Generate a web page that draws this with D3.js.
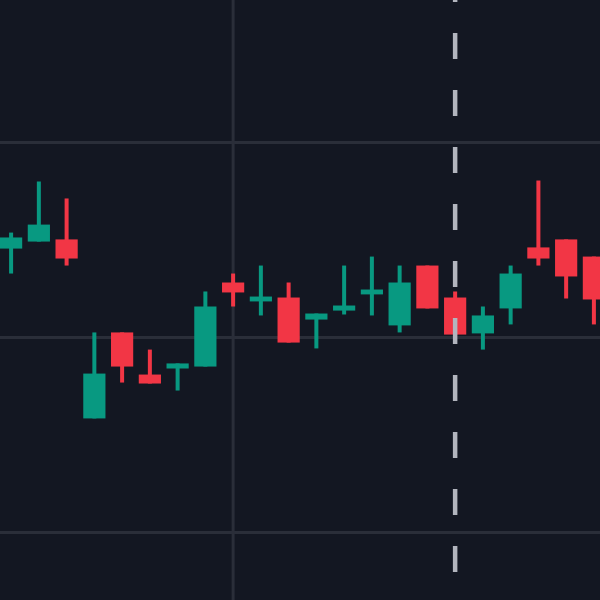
<!DOCTYPE html>
<html>
<head>
<meta charset="utf-8">
<script src="https://cdn.jsdelivr.net/npm/d3@7"></script>
<style>
  html, body { margin: 0; padding: 0; background: #131722; }
  svg { display: block; }
</style>
</head>
<body>
<div id="plot"></div>
<script>
// candles (price units are arbitrary, grid lines at 90 / 100 / 110)
let days  = ['d01','d02','d03','d04','d05','d06','d07','d08','d09','d10','d11',
             'd12','d13','d14','d15','d16','d17','d18','d19','d20','d21','d22'];
let open  = [104.56,104.92,105.03, 95.85,100.26, 98.10, 98.41, 98.51,102.82,101.85,102.05,
             100.92,101.38,102.21,100.62,103.69,102.05,100.21,101.49,104.62,105.03,104.15];
let high  = [105.38,108.00,107.13,100.26,100.26, 99.38, 98.67,102.36,103.28,103.69,102.82,
             101.23,103.69,104.15,103.69,103.69,102.36,101.59,103.69,108.05,105.03,104.15];
let low   = [103.28,104.92,103.69, 95.85, 97.69, 97.64, 97.28, 98.51,101.59,101.13, 99.74,
              99.44,101.18,101.13,100.26,101.49,100.15, 99.38,100.67,103.69,102.00,100.67];
let close = [105.13,105.79,104.05, 98.15, 98.51, 97.64, 98.67,101.59,102.31,102.10, 99.74,
             101.23,101.64,102.46,102.82,101.49,100.15,101.13,103.28,104.05,103.13,101.95];
let priceTicks = [90, 100, 110];
let gridDays = ['d09'];
let markerDay = 'd17';

let width = 600, height = 600;
let up = '#089981', down = '#f23645';

let data = days.map((d, i) => ({day: d, o: open[i], h: high[i], l: low[i], c: close[i]}));

let x = d3.scaleBand().domain(days).range([0, 605]).paddingInner(0.2).paddingOuter(0);
let y = d3.scaleLinear().domain([90, 110]).range([532.5, 142.5]);
let cx = d => x(d) + x.bandwidth() / 2;

let svg = d3.select('#plot').append('svg').attr('width', width).attr('height', height);
svg.append('rect').attr('width', width).attr('height', height).attr('fill', '#131722');

// grid
let grid = svg.append('g').attr('stroke', '#2a2e39').attr('stroke-width', 3);
grid.selectAll('.h').data(priceTicks).enter().append('line')
  .attr('x1', 0).attr('x2', width)
  .attr('y1', d => y(d)).attr('y2', d => y(d));
grid.selectAll('.v').data(gridDays).enter().append('line')
  .attr('y1', 0).attr('y2', height)
  .attr('x1', d => cx(d)).attr('x2', d => cx(d));

// candles
let g = svg.append('g');
let candles = g.selectAll('g').data(data).enter().append('g')
  .attr('fill', d => d.c >= d.o ? up : down);

candles.append('rect')
  .attr('x', d => cx(d.day) - 2)
  .attr('width', 4)
  .attr('y', d => y(d.h))
  .attr('height', d => Math.max(0, y(d.l) - y(d.h)));

candles.append('rect')
  .attr('x', d => x(d.day))
  .attr('width', x.bandwidth())
  .attr('y', d => y(Math.max(d.o, d.c)))
  .attr('height', d => Math.max(1, Math.abs(y(d.o) - y(d.c))));

// dashed marker line
svg.append('line')
  .attr('x1', cx(markerDay)).attr('x2', cx(markerDay))
  .attr('y1', 0).attr('y2', height)
  .attr('stroke', '#b2b5be')
  .attr('stroke-width', 4.5)
  .attr('stroke-dasharray', '26,31')
  .attr('stroke-dashoffset', 24);
</script>
</body>
</html>
